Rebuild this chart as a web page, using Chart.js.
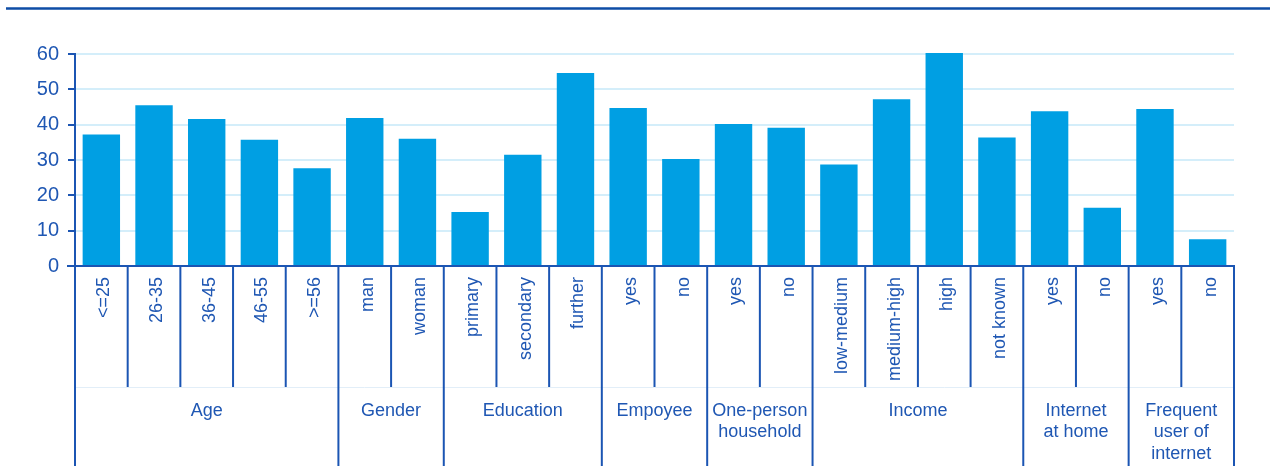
<!DOCTYPE html>
<html>
<head>
<meta charset="utf-8">
<script src="https://cdn.jsdelivr.net/npm/chart.js@4"></script>
<style>
  html, body { margin: 0; padding: 0; background: #ffffff; }
  #wrap { position: relative; width: 1270px; height: 474px; }
</style>
</head>
<body>
<div id="wrap"><canvas id="c" width="1270" height="474"></canvas></div>
<script>
const categories = ['<=25','26-35','36-45','46-55','>=56','man','woman','primary','secondary','further','yes','no','yes','no','low-medium','medium-high','high','not known','yes','no','yes','no'];
const values = [37.2,45.5,41.6,35.7,27.7,41.9,36.0,15.3,31.5,54.6,44.7,30.3,40.2,39.1,28.7,47.2,60.3,36.4,43.8,16.5,44.4,7.6];
const groupNames = [['Age'],['Gender'],['Education'],['Empoyee'],['One-person','household'],['Income'],['Internet','at home'],['Frequent','user of','internet']];
const groupSizes = [5,2,3,2,2,4,2,2];
const yMin = 0, yMax = 60, yStep = 10;

const BAR = '#009FE3';
const DARK = '#1B55B3';
const TEXT = '#1F57B3';
const GRID = '#D4EEFA';
const FONT = "'Liberation Sans', Arial, sans-serif";

const decor = {
  id: 'decor',
  afterDatasetsDraw(chart) {
    const ctx = chart.ctx;
    const xs = chart.scales.x;
    const area = chart.chartArea;
    const n = categories.length;
    const c0 = xs.getPixelForValue(0), c1 = xs.getPixelForValue(1);
    const w = c1 - c0;
    const boundary = i => xs.getPixelForValue(0) - w / 2 + i * w;
    const axisY = area.bottom;
    const midY = axisY + 121;
    const endY = axisY + 200;
    ctx.save();
    // faint horizontal divider
    ctx.strokeStyle = '#E2EEF8';
    ctx.lineWidth = 1;
    ctx.beginPath();
    ctx.moveTo(boundary(0), midY + 0.5);
    ctx.lineTo(boundary(n), midY + 0.5);
    ctx.stroke();
    // group boundaries
    const groupEdges = new Set([0]);
    let acc = 0;
    groupSizes.forEach(s => { acc += s; groupEdges.add(acc); });
    ctx.strokeStyle = DARK;
    ctx.lineWidth = 2;
    for (let i = 0; i <= n; i++) {
      const x = boundary(i);
      ctx.beginPath();
      ctx.moveTo(x, axisY);
      ctx.lineTo(x, groupEdges.has(i) ? endY : midY);
      ctx.stroke();
    }
    // x axis line
    ctx.beginPath();
    ctx.moveTo(area.left - 8, axisY);
    ctx.lineTo(boundary(n) + 1, axisY);
    ctx.stroke();
    // group labels
    ctx.fillStyle = TEXT;
    ctx.font = '18px ' + FONT;
    ctx.textAlign = 'center';
    ctx.textBaseline = 'middle';
    let start = 0;
    groupSizes.forEach((s, gi) => {
      const cx = (boundary(start) + boundary(start + s)) / 2;
      groupNames[gi].forEach((line, li) => {
        ctx.fillText(line, cx, midY + 24 + li * 21.5);
      });
      start += s;
    });
    // top rule
    ctx.strokeStyle = '#0E4DA6';
    ctx.lineWidth = 2.5;
    ctx.beginPath();
    ctx.moveTo(6, 8.5);
    ctx.lineTo(1270, 8.5);
    ctx.stroke();
    ctx.restore();
  }
};

new Chart(document.getElementById('c'), {
  type: 'bar',
  data: {
    labels: categories,
    datasets: [{
      data: values,
      backgroundColor: BAR,
      borderColor: '#6FC8EE',
      borderWidth: 0,
      barPercentage: 0.71,
      categoryPercentage: 1.0,
      clip: false
    }]
  },
  options: {
    responsive: false,
    animation: false,
    events: [],
    layout: { padding: { top: 54, left: 0, right: 36, bottom: 8 } },
    plugins: { legend: { display: false }, tooltip: { enabled: false }, title: { display: false } },
    scales: {
      x: {
        offset: true,
        grid: { display: false, drawTicks: false },
        border: { display: false },
        ticks: {
          color: TEXT,
          font: { size: 18, family: FONT },
          minRotation: 90,
          maxRotation: 90,
          autoSkip: false,
          padding: 11,
          labelOffset: 3
        },
        afterFit(scale) { scale.height = 200; }
      },
      y: {
        min: yMin,
        max: yMax,
        grid: { color: GRID, lineWidth: 2, tickColor: DARK, tickLength: 7 },
        border: { display: true, color: DARK, width: 2 },
        ticks: {
          stepSize: yStep,
          color: TEXT,
          font: { size: 20, family: FONT },
          padding: 9
        },
        afterFit(scale) { scale.width = 75; }
      }
    }
  },
  plugins: [decor]
});
</script>
</body>
</html>
